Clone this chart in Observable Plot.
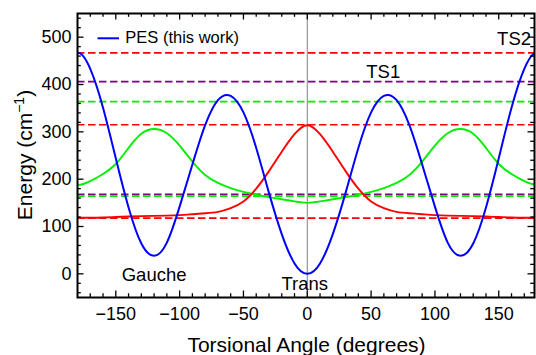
<!DOCTYPE html>
<html>
<head>
<meta charset="utf-8">
<script src="https://cdn.jsdelivr.net/npm/d3@7"></script>
<script src="https://cdn.jsdelivr.net/npm/@observablehq/plot@0.6"></script>
<style>
  html, body { margin: 0; padding: 0; background: #fff; }
  #chart { width: 536px; height: 355px; }
</style>
</head>
<body>
<div id="chart"></div>
<script>
// ---- data (curves are periodic, so one sample is read past each end) ----
const angles = [-190,-180,-170,-160,-150,-140,-130,-120,-110,-100,-90,-80,-70,-60,-50,-40,-30,-20,-10,0,
                10,20,30,40,50,60,70,80,90,100,110,120,130,140,150,160,170,180,190];
const pesValues = [433,467,433,351,244,140,64,38,66,142,231,314,367,376,341,266,171,84,22,0,
                   22,84,171,266,341,376,367,314,231,142,66,38,64,140,244,351,433,467,433];
const redCurve = [118.5,118.5,118.5,119,120,121,122,122.5,123,124,126,128,131,139,153,180,217,258,295,314,
                  295,258,217,180,153,139,131,128,126,124,123,122.5,122,121,120,119,118.5,118.5,118.5];
const greenCurve = [196,188,196,211,232,266,296,306,297,271,237,209,192,181,173,167,162,157.5,153,150,
                    153,157.5,162,167,173,181,192,209,237,271,297,306,296,266,232,211,196,188,196];
const redLevels = [117.5, 315, 467];
const greenLevels = [164, 364];
const purpleLevels = [168, 406];
const annoLabels = ["TS1", "TS2", "Gauche", "Trans"];
const annoAngles = [59.5, 162, -120, -2];
const annoEnergies = [414, 484, -16, -34];
const xMajorTicks = [-150, -100, -50, 0, 50, 100, 150];
const xMinorTicks = [-170,-160,-140,-130,-120,-110,-90,-80,-70,-60,-40,-30,-20,-10,
                     10,20,30,40,60,70,80,90,110,120,130,140,160,170];
const yMajorTicks = [0, 100, 200, 300, 400, 500];
const yMinorTicks = [-40,-20,20,40,60,80,120,140,160,180,220,240,260,280,320,340,360,380,420,440,460,480,520,540];
const legendLabel = "PES (this work)";
const xTitle = "Torsional Angle (degrees)";

// ---- build table ----
const rows = angles.map((a, i) => ({angle: a, pes: pesValues[i], red: redCurve[i], green: greenCurve[i]}));
const annos = annoLabels.map((t, i) => ({t, a: annoAngles[i], e: annoEnergies[i]}));

const W = 536, H = 355;
const mL = 77, mR = 2, mT = 13, mB = 58;
const innerW = W - mL - mR, innerH = H - mT - mB;
const majorLen = 6.5, minorLen = 3.8;

const font = '"Liberation Sans", Arial, Helvetica, sans-serif';
const dash = "7.5,3.5";
const tk = {stroke: "black", strokeWidth: 1.3};

const chart = Plot.plot({
  width: W,
  height: H,
  marginLeft: mL,
  marginRight: mR,
  marginTop: mT,
  marginBottom: mB,
  x: {domain: [-180, 178]},
  y: {domain: [-50, 550]},
  style: {fontFamily: font, fontSize: "18px", color: "black", background: "white"},
  marks: [
    Plot.ruleX([0], {stroke: "#808080", strokeWidth: 1}),
    Plot.ruleY(redLevels, {stroke: "#ff0000", strokeWidth: 1.7, strokeDasharray: dash}),
    Plot.ruleY(purpleLevels, {stroke: "#800080", strokeWidth: 1.7, strokeDasharray: dash}),
    Plot.ruleY(greenLevels, {stroke: "#00f000", strokeWidth: 1.7, strokeDasharray: dash}),
    Plot.line(rows, {x: "angle", y: "green", stroke: "#00f000", strokeWidth: 1.9, curve: "natural", clip: true}),
    Plot.line(rows, {x: "angle", y: "red", stroke: "#ff0000", strokeWidth: 1.9, curve: "natural", clip: true}),
    Plot.line(rows, {x: "angle", y: "pes", stroke: "#0000ff", strokeWidth: 2, curve: "natural", clip: true}),
    Plot.text(annos, {x: "a", y: "e", text: "t", fontSize: 18.5, lineAnchor: "bottom", fill: "black"}),
    // inward ticks on all four sides
    Plot.ruleX(xMajorTicks, {...tk, insetTop: innerH - majorLen}),
    Plot.ruleX(xMinorTicks, {...tk, insetTop: innerH - minorLen}),
    Plot.ruleX(xMajorTicks, {...tk, insetBottom: innerH - majorLen}),
    Plot.ruleX(xMinorTicks, {...tk, insetBottom: innerH - minorLen}),
    Plot.ruleY(yMajorTicks, {...tk, insetRight: innerW - majorLen}),
    Plot.ruleY(yMinorTicks, {...tk, insetRight: innerW - minorLen}),
    Plot.ruleY(yMajorTicks, {...tk, insetLeft: innerW - majorLen}),
    Plot.ruleY(yMinorTicks, {...tk, insetLeft: innerW - minorLen}),
    Plot.frame({stroke: "black", strokeWidth: 2}),
    Plot.axisX(xMajorTicks, {anchor: "bottom", tickSize: 0, tickPadding: 10, label: null}),
    Plot.axisY(yMajorTicks, {anchor: "left", tickSize: 0, tickPadding: 6, label: null})
  ]
});

document.getElementById("chart").appendChild(chart);

// ---- titles and legend ----
const svg = d3.select(chart);
svg.append("text")
  .attr("x", 306.5).attr("y", 351.5)
  .attr("text-anchor", "middle")
  .style("font-family", font).style("font-size", "21px").attr("fill", "black")
  .text(xTitle);

const yt = svg.append("text")
  .attr("transform", "translate(32,155) rotate(-90)")
  .attr("text-anchor", "middle")
  .style("font-family", font).style("font-size", "21px").attr("fill", "black");
yt.append("tspan").text("Energy (cm");
yt.append("tspan").attr("dy", -8).style("font-size", "14px").text("\u22121");
yt.append("tspan").attr("dy", 8).text(")");

const lg = svg.append("g");
lg.append("line").attr("x1", 97.5).attr("x2", 119).attr("y1", 38.3).attr("y2", 38.3)
  .attr("stroke", "#0000ff").attr("stroke-width", 2);
lg.append("text").attr("x", 125.3).attr("y", 42.8)
  .attr("text-anchor", "start")
  .style("font-family", font).style("font-size", "16.5px").attr("fill", "black")
  .text(legendLabel);
</script>
</body>
</html>
